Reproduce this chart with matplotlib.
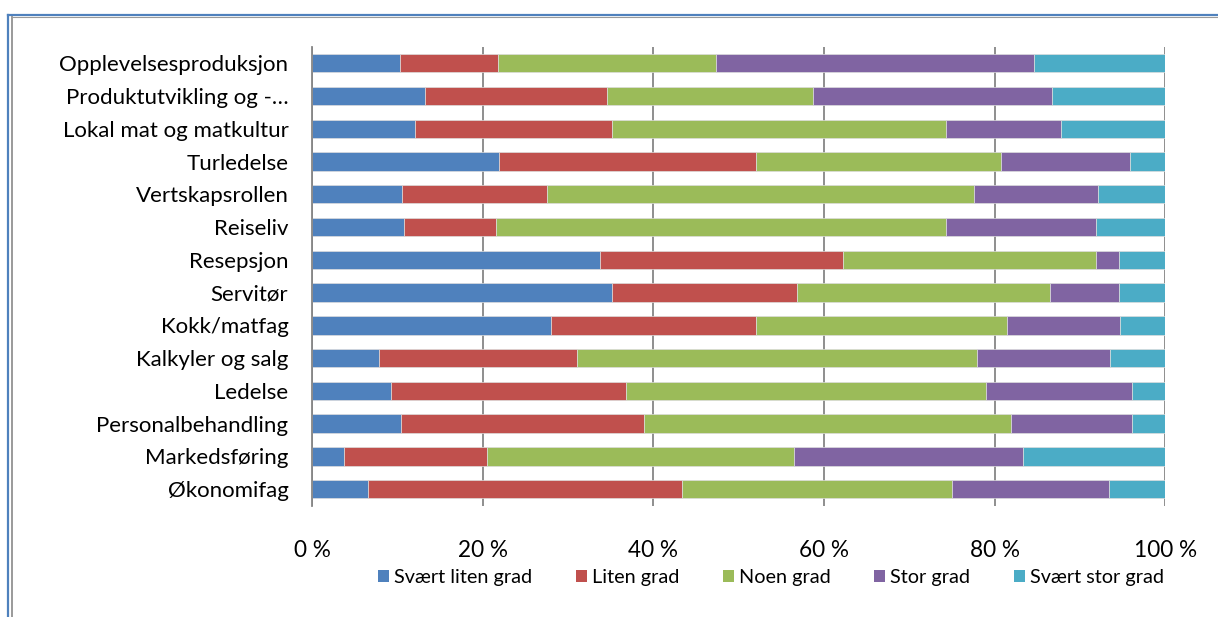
import matplotlib
matplotlib.use("Agg")
import matplotlib.pyplot as plt
from matplotlib.patches import Patch
from matplotlib.lines import Line2D
from matplotlib.ticker import FuncFormatter

plt.rcParams['font.family'] = ['Lato', 'DejaVu Sans']

categories = [
    "Opplevelsesproduksjon", "Produktutvikling og -…", "Lokal mat og matkultur",
    "Turledelse", "Vertskapsrollen", "Reiseliv", "Resepsjon", "Servitør",
    "Kokk/matfag", "Kalkyler og salg", "Ledelse", "Personalbehandling",
    "Markedsføring", "Økonomifag",
]
series_names = ["Svært liten grad", "Liten grad", "Noen grad", "Stor grad", "Svært stor grad"]

# andel i prosent per kategori (ovenfra og ned)
svaert_liten = [10.3, 13.3, 12.1, 21.9, 10.5, 10.8, 33.8, 35.1, 28.0, 7.8, 9.2, 10.4, 3.8, 6.6]
liten        = [11.5, 21.3, 23.1, 30.1, 17.0, 10.8, 28.4, 21.7, 24.0, 23.3, 27.6, 28.5, 16.7, 36.8]
noen         = [25.6, 24.1, 39.1, 28.8, 50.1, 52.7, 29.7, 29.7, 29.4, 46.8, 42.2, 43.0, 36.0, 31.6]
stor         = [37.2, 28.0, 13.5, 15.1, 14.5, 17.6, 2.7, 8.1, 13.3, 15.6, 17.1, 14.2, 26.8, 18.4]
svaert_stor  = [15.4, 13.3, 12.2, 4.1, 7.9, 8.1, 5.4, 5.4, 5.3, 6.5, 3.9, 3.9, 16.7, 6.6]

colors = ["#4F81BD", "#C0504D", "#9BBB59", "#8064A2", "#4BACC6"]
grid_col = "#868686"

fig = plt.figure(figsize=(12.18, 6.17), dpi=100)
ax = fig.add_axes([312 / 1218, 1 - 505.6 / 617, (1165.3 - 312) / 1218, (505.6 - 46.8) / 617])

y = list(range(len(categories)))
left = [0.0] * len(categories)
for vals, name, col in zip([svaert_liten, liten, noen, stor, svaert_stor], series_names, colors):
    ax.barh(y, vals, left=left, height=0.56, color=col, edgecolor="#dddddd",
            linewidth=0.5, label=name)
    left = [a + b for a, b in zip(left, vals)]

ax.set_xlim(0, 100)
ax.set_ylim(len(categories) - 0.5, -0.5)
ax.set_yticks(y)
ax.set_yticklabels(categories, fontsize=16)
ax.set_xticks([0, 20, 40, 60, 80, 100])
ax.xaxis.set_major_formatter(FuncFormatter(lambda v, p: f"{int(v)} %"))
ax.tick_params(axis="y", length=0, pad=17)
ax.tick_params(axis="x", length=0, pad=24.5, labelsize=16.3)

ax.set_axisbelow(True)
ax.grid(axis="x", color=grid_col, linewidth=1.3)
for s in ["top", "bottom", "right"]:
    ax.spines[s].set_visible(False)
ax.spines["left"].set_color(grid_col)
ax.spines["left"].set_linewidth(1.3)

handles = [Patch(facecolor=c, edgecolor="none") for c in colors]
fig.legend(handles, series_names, loc="center", bbox_to_anchor=(771 / 1218, 1 - 578 / 617),
           ncol=5, frameon=False, fontsize=14.3, handlelength=0.55, handleheight=0.55,
           handletextpad=0.25, columnspacing=2.2)

# ramme rundt figuren
fig.add_artist(Line2D([8 / 1218, 1.0], [1 - 15 / 617] * 2, transform=fig.transFigure,
                      color="#4F81BD", linewidth=1.6))
fig.add_artist(Line2D([8 / 1218] * 2, [0, 1 - 15 / 617], transform=fig.transFigure,
                      color="#4F81BD", linewidth=1.6))
fig.add_artist(Line2D([12 / 1218, 1.0], [1 - 16.8 / 617] * 2, transform=fig.transFigure,
                      color="#9a9a9a", linewidth=0.8))
fig.add_artist(Line2D([12 / 1218] * 2, [0, 1 - 16.8 / 617], transform=fig.transFigure,
                      color="#9a9a9a", linewidth=1.4))

fig.savefig("out.png", dpi=100)
